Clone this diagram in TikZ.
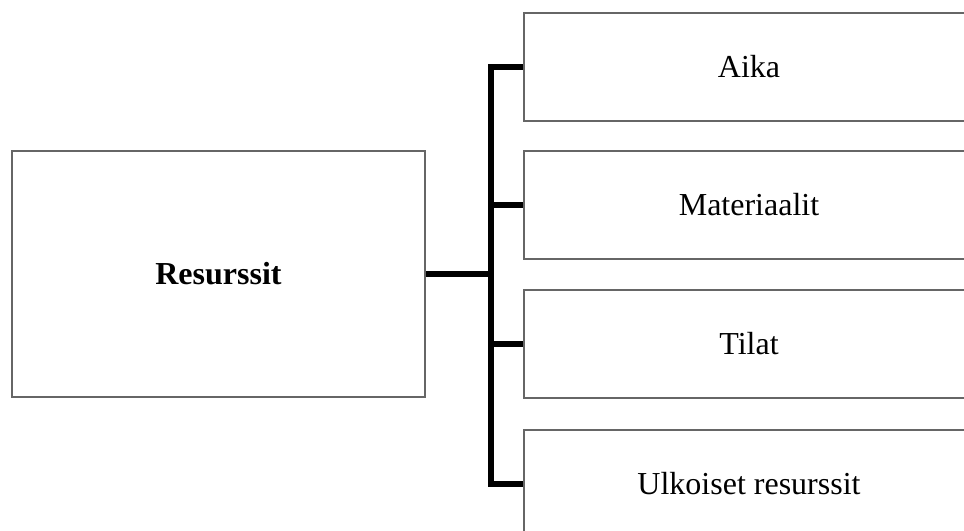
\documentclass[tikz,border=0pt]{standalone}
\usepackage{fontspec}
\setmainfont{Liberation Serif}
\tikzset{
  box/.style={draw=black!60, line width=2pt, fill=white, inner sep=0pt, font=\fontsize{24}{28}\selectfont},
  conn/.style={draw=black, line width=4pt, line join=miter}
}
\begin{document}
\begin{tikzpicture}[x=0.75pt,y=-0.75pt]
\useasboundingbox (0,0) rectangle (964,531);
\clip (0,0) rectangle (964,531);
\node[box, minimum width=413*0.75pt, minimum height=246*0.75pt] (res) at (218.5,274) {\textbf{Resurssit}};
\node[box, minimum width=450*0.75pt, minimum height=108*0.75pt] (aika) at (749,67) {Aika};
\node[box, minimum width=450*0.75pt, minimum height=108*0.75pt] (mat) at (749,205) {Materiaalit};
\node[box, minimum width=450*0.75pt, minimum height=108*0.75pt] (til) at (749,344) {Tilat};
\node[box, minimum width=450*0.75pt, minimum height=108*0.75pt] (ulk) at (749,484) {Ulkoiset resurssit};
\coordinate (btop) at (491,67);
\coordinate (bbot) at (491,484);
\draw[conn] (aika.west) -- (btop) -- (bbot) -- (ulk.west);
\draw[conn] (mat.west) -- (mat.west -| btop);
\draw[conn] (til.west) -- (til.west -| btop);
\draw[conn] (res.east) -- (res.east -| btop);
\end{tikzpicture}
\end{document}
